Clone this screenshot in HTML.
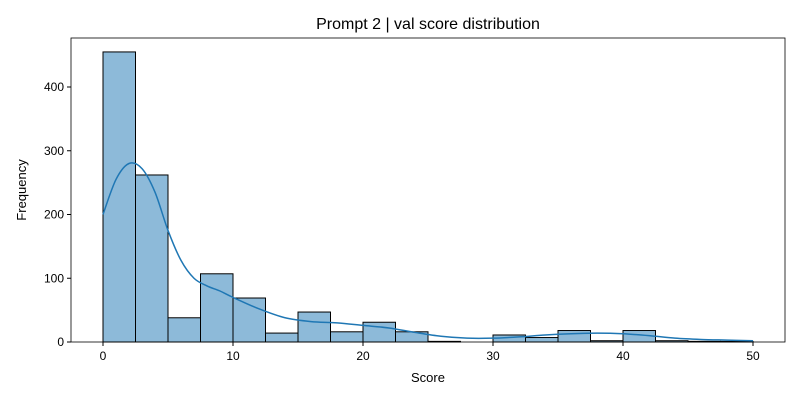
<!DOCTYPE html>
<html><head><meta charset="utf-8"><style>
body{margin:0;background:#fff;font-family:"Liberation Sans","DejaVu Sans",sans-serif}
svg text{font-family:"Liberation Sans","DejaVu Sans",sans-serif;fill:#000}
</style></head><body>
<svg id="chart" width="800" height="400" xmlns="http://www.w3.org/2000/svg">
<rect width="800" height="400" fill="#fff"/>
<text x="428" y="29" font-size="16" text-anchor="middle">Prompt 2 | val score distribution</text>
<g id="bars"></g><g id="kde"></g><g id="axes"></g>
<text x="428" y="382" font-size="13" text-anchor="middle">Score</text>
<text x="26" y="190" font-size="13" text-anchor="middle" transform="rotate(-90 26 190)">Frequency</text>
</svg>
<script>
const binStart = 0, binWidth = 2.5;
const counts = [455,262,38,107,69,14,47,16,31,16,1,0,11,7,18,2,18,2,1,1];
const kdeX = [0,1,2,3,4,5,6,7,8,9,10,12,14,16,18,20,22,24,26,28,30,32,34,36,38,40,42,44,46,48,50];
const kdeY = [200,255,280,272,235,175,128,100,88,80,70,52,38,32,30,26,22,15,9,6,6,8,11,13,14,13,10,6,4,3,2];
const xTicks = [0,10,20,30,40,50];
const yTicks = [0,100,200,300,400];
const NS="http://www.w3.org/2000/svg";
const L=71,R=785,T=38,B=342;
const sx=v=>103+v*13, sy=v=>B-v*0.6375;
function mk(tag,attrs,parent){const e=document.createElementNS(NS,tag);for(const k in attrs)e.setAttribute(k,attrs[k]);parent.appendChild(e);return e;}
const bars=document.getElementById('bars');
counts.forEach((c,i)=>{const x0=sx(binStart+i*binWidth),x1=sx(binStart+(i+1)*binWidth);
const r=mk('rect',{x:x0,y:sy(c),width:x1-x0,height:B-sy(c),fill:'#8dbad9',stroke:'#000','stroke-width':1},bars);

});
const kde=document.getElementById('kde');
const pts=kdeX.map((x,i)=>[sx(x),sy(kdeY[i])]);
let d='M'+pts[0][0]+','+pts[0][1];
for(let i=0;i<pts.length-1;i++){const p0=pts[Math.max(0,i-1)],p1=pts[i],p2=pts[i+1],p3=pts[Math.min(pts.length-1,i+2)];
d+=' C'+(p1[0]+(p2[0]-p0[0])/6)+','+(p1[1]+(p2[1]-p0[1])/6)+' '+(p2[0]-(p3[0]-p1[0])/6)+','+(p2[1]-(p3[1]-p1[1])/6)+' '+p2[0]+','+p2[1];}
const p=mk('path',{d:d,fill:'none',stroke:'#1f77b4','stroke-width':1.5},kde);


const ax=document.getElementById('axes');
const f=mk('rect',{x:L,y:T,width:R-L,height:B-T,fill:'none',stroke:'#000','stroke-width':0.8},ax);


xTicks.forEach(t=>{mk('line',{x1:sx(t),x2:sx(t),y1:B,y2:B+4,stroke:'#000'},ax);
const tx=mk('text',{x:sx(t),y:B+18,'font-size':12,'text-anchor':'middle'},ax);tx.textContent=t;

});
yTicks.forEach(t=>{mk('line',{x1:L-4,x2:L,y1:sy(t),y2:sy(t),stroke:'#000'},ax);
const tx=mk('text',{x:L-7,y:sy(t)+4,'font-size':12,'text-anchor':'end'},ax);tx.textContent=t;

});
</script>
</body></html>
